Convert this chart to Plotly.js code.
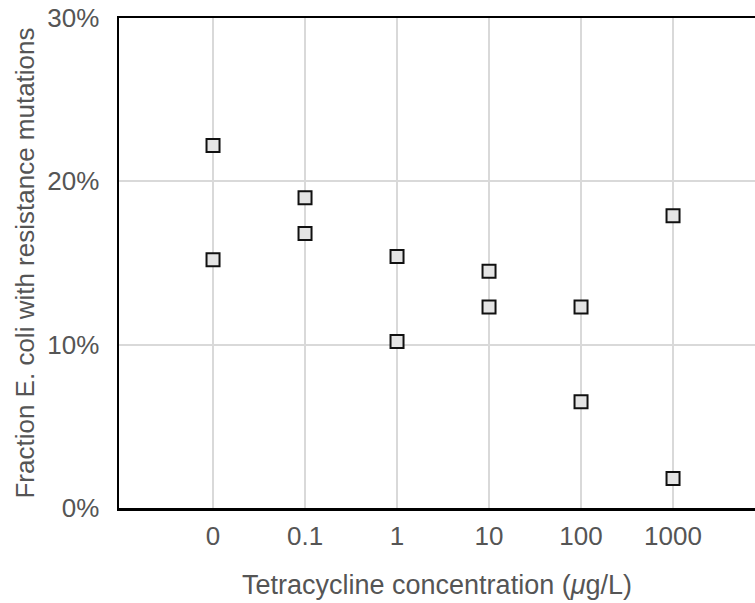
<!DOCTYPE html>
<html>
<head>
<meta charset="utf-8">
<script src="https://cdn.plot.ly/plotly-3.0.1.min.js"></script>
<style>html,body{margin:0;padding:0;background:#fff;}#chart{width:755px;height:603px;}</style>
</head>
<body>
<div id="chart"></div>
<script>
const categories = ["0", "0.1", "1", "10", "100", "1000"];
const seriesA = [22.2, 19.0, 15.4, 14.5, 12.3, 17.9];
const seriesB = [15.2, 16.8, 10.2, 12.3, 6.5, 1.8];
const yTickVals = [0, 10, 20, 30];
const yTickText = ["0%", "10%", "20%", "30%"];

const xIdx = categories.map((c, i) => i);
const markerStyle = {symbol: 'square', size: 13, color: '#e4e4e4', line: {color: '#111', width: 2}};
const traces = [
  {x: xIdx, y: seriesA, mode: 'markers', type: 'scatter', marker: markerStyle, hoverinfo: 'none'},
  {x: xIdx, y: seriesB, mode: 'markers', type: 'scatter', marker: markerStyle, hoverinfo: 'none'}
];
const fam = 'Liberation Sans, Arial, sans-serif';
const tickFont = {family: fam, size: 26, color: '#555'};
const layout = {
  width: 755, height: 603,
  margin: {l: 119, r: 0, t: 18, b: 95},
  showlegend: false,
  paper_bgcolor: '#fff', plot_bgcolor: '#fff',
  xaxis: {
    range: [-1.022, 5.891],
    tickvals: xIdx, ticktext: categories,
    showgrid: true, gridcolor: '#d9d9d9', gridwidth: 2,
    zeroline: false,
    showline: true, linecolor: '#000', linewidth: 2.5, mirror: true,
    ticks: '', ticklabelstandoff: 3,
    tickfont: tickFont,
    title: {text: 'Tetracycline concentration (<i>μ</i>g/L)', font: {family: fam, size: 27, color: '#555'}, standoff: 26}
  },
  yaxis: {
    range: [0, 30],
    tickvals: yTickVals, ticktext: yTickText,
    showgrid: true, gridcolor: '#d9d9d9', gridwidth: 2,
    zeroline: false,
    showline: true, linecolor: '#000', linewidth: 2.5,
    ticks: '', ticklabelstandoff: 12,
    tickfont: tickFont,
    title: {text: 'Fraction E. coli with resistance mutations', font: {family: fam, size: 26, color: '#555'}, standoff: 5}
  }
};
Plotly.newPlot('chart', traces, layout, {displayModeBar: false, staticPlot: true});
</script>
</body>
</html>
